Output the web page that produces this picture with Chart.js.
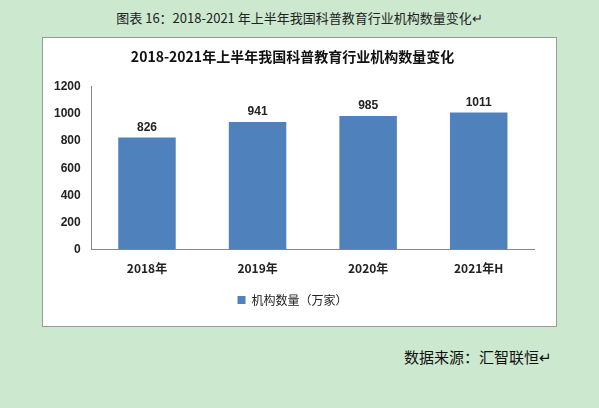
<!DOCTYPE html>
<html><head><meta charset="utf-8">
<script src="https://cdn.jsdelivr.net/npm/chart.js@4/dist/chart.umd.min.js"></script>
<style>
body{margin:0;width:599px;height:408px;background:#cce8cf;font-family:"Noto Sans CJK SC",sans-serif;position:relative;overflow:hidden}
#t{position:absolute;top:8px;left:0;width:599px;text-align:center;font-size:13px;color:#222}
#box{position:absolute;left:42px;top:37px;width:513px;height:288px;background:#fff;border:1px solid #999}
#src{position:absolute;left:404px;top:346px;font-size:15px;color:#111}
</style></head><body>
<div id="t">图表 16：2018-2021 年上半年我国科普教育行业机构数量变化↵</div>
<div id="box"><canvas id="c" width="513" height="288"></canvas></div>
<div id="src">数据来源：汇智联恒↵</div>
<script>
var categories = ["2018年", "2019年", "2020年", "2021年H"];
var values = [826, 941, 985, 1011];
var ticks = [0, 200, 400, 600, 800, 1000, 1200];

var labelPlugin = {
  id: "labels",
  afterDatasetsDraw: function(chart) {
    var ctx = chart.ctx;
    ctx.save();
    ctx.font = "bold 12px 'Liberation Sans', Arial";
    ctx.fillStyle = "#222";
    ctx.textAlign = "center";
    chart.getDatasetMeta(0).data.forEach(function(bar, i) {
      ctx.fillText(values[i], bar.x, bar.y - 10);
    });
    ctx.restore();
  }
};

new Chart(document.getElementById("c"), {
  type: "bar",
  data: {
    labels: categories,
    datasets: [{
      label: "机构数量（万家）",
      data: values,
      backgroundColor: "#4f81bd",
      barPercentage: 0.52,
      categoryPercentage: 1
    }]
  },
  options: {
    responsive: false,
    animation: false,
    layout: { padding: { left: 8, right: 22, top: 4, bottom: 10 } },
    plugins: {
      title: { display: true, text: "2018-2021年上半年我国科普教育行业机构数量变化",
        color: "#111", font: { size: 14, weight: "bold", family: "'Noto Sans CJK SC'" }, padding: { top: 6, bottom: 22 } },
      legend: { position: "bottom", labels: { boxWidth: 8, boxHeight: 8, color: "#222", padding: 14,
        font: { size: 12, family: "'Noto Sans CJK SC'" } } },
      tooltip: { enabled: false }
    },
    scales: {
      x: { grid: { display: false }, border: { color: "#888" },
        ticks: { color: "#222", font: { size: 12, weight: "bold", family: "'Noto Sans CJK SC'" }, padding: 4 } },
      y: { min: 0, max: 1200, afterBuildTicks: function(s) { s.ticks = ticks.map(function(v) { return { value: v }; }); },
        grid: { display: false }, border: { color: "#888" },
        ticks: { color: "#222", callback: function(v) { return String(v); },
          font: { size: 12, weight: "bold", family: "'Liberation Sans'" } } }
    }
  },
  plugins: [labelPlugin]
});
</script>
</body></html>
